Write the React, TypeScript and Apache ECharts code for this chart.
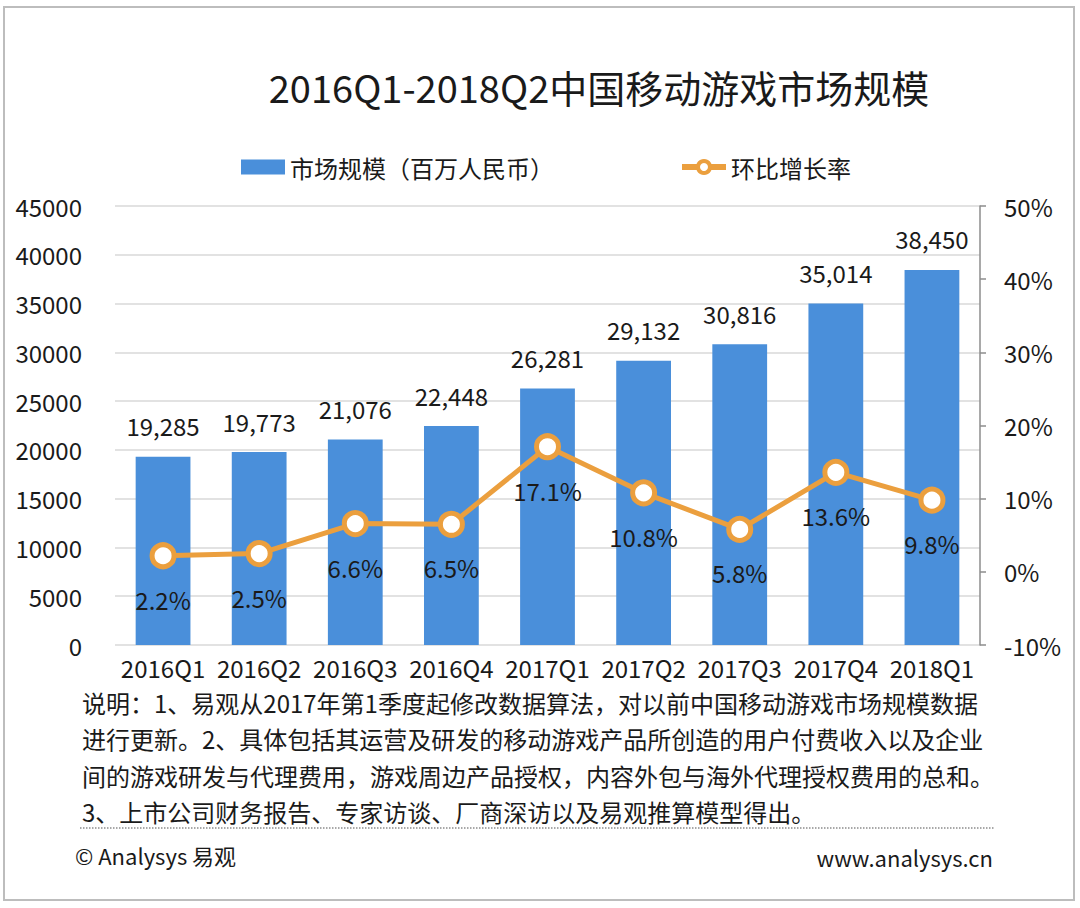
import React, { useRef, useEffect } from 'react';
import * as echarts from 'echarts';

const categories = ['2016Q1', '2016Q2', '2016Q3', '2016Q4', '2017Q1', '2017Q2', '2017Q3', '2017Q4', '2018Q1'];
const marketSize = [19285, 19773, 21076, 22448, 26281, 29132, 30816, 35014, 38450];
const growthRate = [2.2, 2.5, 6.6, 6.5, 17.1, 10.8, 5.8, 13.6, 9.8];
const noteLines = [
  '说明：1、易观从2017年第1季度起修改数据算法，对以前中国移动游戏市场规模数据',
  '进行更新。2、具体包括其运营及研发的移动游戏产品所创造的用户付费收入以及企业',
  '间的游戏研发与代理费用，游戏周边产品授权，内容外包与海外代理授权费用的总和。',
  '3、上市公司财务报告、专家访谈、厂商深访以及易观推算模型得出。',
];

const FONT = '"Noto Sans CJK SC", "Noto Sans", sans-serif';
const TEXT = '#1a1a1a';
const ORANGE = '#eb9f3e';

const App: React.FC = () => {
  const chartRef = useRef<HTMLDivElement>(null);

  useEffect(() => {
    if (!chartRef.current) return;
    const chart = echarts.init(chartRef.current, undefined, { renderer: 'svg' });

    const option: echarts.EChartsOption = {
      animation: false,
      backgroundColor: '#fff',
      textStyle: { fontFamily: FONT, color: TEXT },
      title: {
        text: '2016Q1-2018Q2中国移动游戏市场规模',
        left: 594,
        textAlign: 'center',
        top: 62,
        textStyle: { fontSize: 38, fontWeight: 'normal', color: TEXT, fontFamily: FONT },
      },
      legend: {
        left: 236,
        top: 150,
        itemGap: 125,
        itemWidth: 44,
        itemHeight: 15,
        textStyle: { fontSize: 24, color: TEXT, fontFamily: FONT },
        data: [
          { name: '市场规模（百万人民币）', icon: 'rect' },
          {
            name: '环比增长率',
            lineStyle: { width: 6, color: ORANGE },
            itemStyle: { color: '#fff', borderColor: ORANGE, borderWidth: 4 },
          },
        ],
      },
      grid: { left: 115, right: 100, top: 206, bottom: 263 },
      xAxis: {
        type: 'category',
        data: categories,
        axisLine: { show: false },
        axisTick: { show: false },
        axisLabel: { fontSize: 24, color: TEXT, interval: 0, margin: 10, fontFamily: FONT },
      },
      yAxis: [
        {
          type: 'value',
          min: 0,
          max: 45000,
          interval: 5000,
          axisLine: { show: false },
          axisTick: { show: false },
          splitLine: { lineStyle: { color: '#d9d9d9', width: 1.5 } },
          axisLabel: {
            fontSize: 24,
            color: TEXT,
            margin: 33,
            fontFamily: FONT,
            formatter: (v: number) => String(v),
          },
        },
        {
          type: 'value',
          min: -10,
          max: 50,
          interval: 10,
          position: 'right',
          axisLine: { show: true, lineStyle: { color: '#8c8c8c', width: 1.5 } },
          axisTick: { show: true, length: 6, lineStyle: { color: '#8c8c8c', width: 1.5 } },
          splitLine: { show: false },
          axisLabel: { fontSize: 24, color: TEXT, margin: 24, formatter: '{value}%', fontFamily: FONT },
        },
      ],
      series: [
        {
          name: '市场规模（百万人民币）',
          type: 'bar',
          data: marketSize,
          barWidth: '57%',
          itemStyle: { color: '#4a8fda' },
          label: {
            show: true,
            position: 'top',
            distance: 19,
            fontSize: 24,
            color: TEXT,
            fontFamily: FONT,
            formatter: (p: any) => String(p.value).replace(/\B(?=(\d{3})+(?!\d))/g, ','),
          },
        },
        {
          name: '环比增长率',
          type: 'line',
          yAxisIndex: 1,
          data: growthRate,
          symbol: 'circle',
          symbolSize: 22,
          lineStyle: { color: ORANGE, width: 5 },
          itemStyle: { color: '#fff', borderColor: ORANGE, borderWidth: 5 },
          label: {
            show: true,
            position: 'bottom',
            distance: 18,
            fontSize: 24,
            color: TEXT,
            fontFamily: FONT,
            formatter: (p: any) => p.value.toFixed(1) + '%',
          },
        },
      ],
      graphic: [
        {
          type: 'rect',
          shape: { x: 4, y: 7, width: 1070, height: 893 },
          style: { fill: 'none', stroke: '#bdbdbd', lineWidth: 2 },
          silent: true,
        },
        ...noteLines.map((t, i) => ({
          type: 'text' as const,
          left: 82,
          top: 690 + i * 36.5,
          style: { text: t, fontSize: 24, fill: TEXT, fontFamily: FONT },
        })),
        {
          type: 'line',
          shape: { x1: 80, y1: 828, x2: 995, y2: 828 },
          style: { stroke: '#8c8c8c', lineWidth: 1.5, lineDash: [1.5, 1.5] },
        },
        {
          type: 'text',
          left: 75,
          top: 844,
          style: { text: '© Analysys 易观', fontSize: 22, fill: TEXT, fontFamily: FONT },
        },
        {
          type: 'text',
          right: 87,
          top: 846,
          style: { text: 'www.analysys.cn', fontSize: 22, fill: TEXT, fontFamily: FONT },
        },
      ],
    };

    chart.setOption(option);
    return () => chart.dispose();
  }, []);

  return (
    <div
      ref={chartRef}
      style={{ position: 'fixed', left: 0, top: 0, width: 1080, height: 908 }}
    />
  );
};

export default App;
